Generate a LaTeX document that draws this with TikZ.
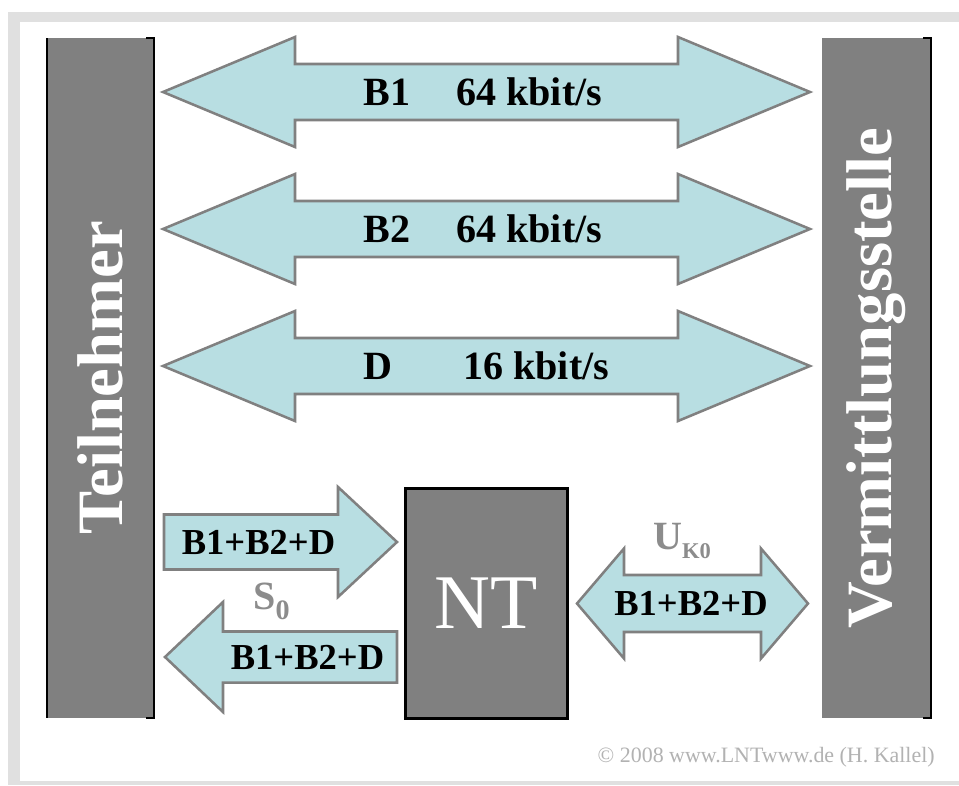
\documentclass[tikz,border=0pt]{standalone}
\usepackage{fontspec}
\setmainfont{Liberation Serif}
\definecolor{hellblau}{HTML}{B8DEE2}
\definecolor{randgrau}{HTML}{E0E0E0}
\definecolor{balkengrau}{HTML}{808080}
\definecolor{schriftgrau}{HTML}{8C8C8C}
% Doppelpfeil: linke Spitze, rechte Spitze, Mitte, halbe Schaftbreite, Kopflaenge
\newcommand{\doppelpfeil}[5]{(#1,#3) -- ({#1+#5},{#3-55}) -- ({#1+#5},{#3-#4}) -- ({#2-#5},{#3-#4}) -- ({#2-#5},{#3-55}) -- (#2,#3) -- ({#2-#5},{#3+55}) -- ({#2-#5},{#3+#4}) -- ({#1+#5},{#3+#4}) -- ({#1+#5},{#3+55}) -- cycle}
% Pfeil nach rechts: Ende, Spitze, Mitte, halbe Schaftbreite, Kopflaenge
\newcommand{\rechtspfeil}[5]{(#1,{#3-#4}) -- ({#2-#5},{#3-#4}) -- ({#2-#5},{#3-55}) -- (#2,#3) -- ({#2-#5},{#3+55}) -- ({#2-#5},{#3+#4}) -- (#1,{#3+#4}) -- cycle}
% Pfeil nach links: Spitze, Ende, Mitte, halbe Schaftbreite, Kopflaenge
\newcommand{\linkspfeil}[5]{(#1,#3) -- ({#1+#5},{#3-55}) -- ({#1+#5},{#3-#4}) -- (#2,{#3-#4}) -- (#2,{#3+#4}) -- ({#1+#5},{#3+#4}) -- ({#1+#5},{#3+55}) -- cycle}
\begin{document}
\begin{tikzpicture}[x=0.025cm,y=-0.025cm,line join=miter,
	pfeil/.style={fill=hellblau,draw=balkengrau,line width=1.8pt},
	balken/.style={fill=balkengrau},
	balkentext/.style={rotate=90,text=white,font=\fontsize{46}{46}\selectfont\bfseries},
	kanaltext/.style={anchor=west,inner sep=0pt,font=\fontsize{28.5}{30}\selectfont\bfseries},
	summentext/.style={inner sep=0pt,font=\fontsize{26}{28}\selectfont\bfseries},
	schnittstelle/.style={anchor=west,inner sep=0pt,text=schriftgrau,font=\fontsize{28.5}{30}\selectfont\bfseries}]
	\useasboundingbox (0,0) rectangle (959,785);
	% Rahmen
	\fill[randgrau] (8,12) rectangle (959,785);
	\fill[white] (20,22) rectangle (959,781);
	% Teilnehmer und Vermittlungsstelle
	\fill[balken] (47,38) rectangle (154,718);
	\draw[line width=0.9pt] (47,38) -- (47,718) (146,38) -| (154,718) -- (146,718);
	\node[balkentext] (teilnehmer) at (100.5,378) {Teilnehmer};
	\fill[balken] (822,38) rectangle (931,718);
	\draw[line width=0.9pt] (923,38) -| (931,718) -- (923,718);
	\node[balkentext] (vermittlung) at (876.5,378) {Vermittlungsstelle};
	% Kanaele B1, B2, D
	\foreach \y/\kanal/\rx/\rate in {92/B1/456/64, 229/B2/456/64, 366/D/463/16}{
		\draw[pfeil] \doppelpfeil{163}{810}{\y}{28}{132};
		\node[kanaltext] (kanal-\kanal) at (363,\y) {\kanal};
		\node[kanaltext] (rate-\kanal) at (\rx,\y) {\rate\ kbit/s};
	}
	% NT
	\node[draw=black,line width=2.2pt,fill=balkengrau,minimum width=4.05cm,minimum height=5.75cm,inner sep=0pt,
		text=white,font=\fontsize{55}{55}\selectfont] (nt) at (486.5,603.5) {NT};
	% S0
	\draw[pfeil] \rechtspfeil{164}{397}{542}{27.5}{59};
	\node[summentext] (s0hin) at (258.5,542) {B1+B2+D};
	\draw[pfeil] \linkspfeil{165}{397}{657}{25.5}{58};
	\node[summentext] (s0rueck) at (307.5,657) {B1+B2+D};
	\node[schnittstelle] (s0) at (253,601) {S\raisebox{-7pt}{\fontsize{20}{20}\selectfont 0}};
	% UK0
	\draw[pfeil] \doppelpfeil{577}{808}{603.5}{28.5}{47};
	\node[summentext] (uk0text) at (691,603) {B1+B2+D};
	\node[schnittstelle] (uk0) at (653,541) {U\raisebox{-6pt}{\fontsize{16}{16}\selectfont K0}};
	\node[anchor=east,inner sep=0pt,text=gray!60,font=\fontsize{15.6}{16}\selectfont] (copy) at (935,757) {© 2008 www.LNTwww.de (H. Kallel)};
\end{tikzpicture}
\end{document}
